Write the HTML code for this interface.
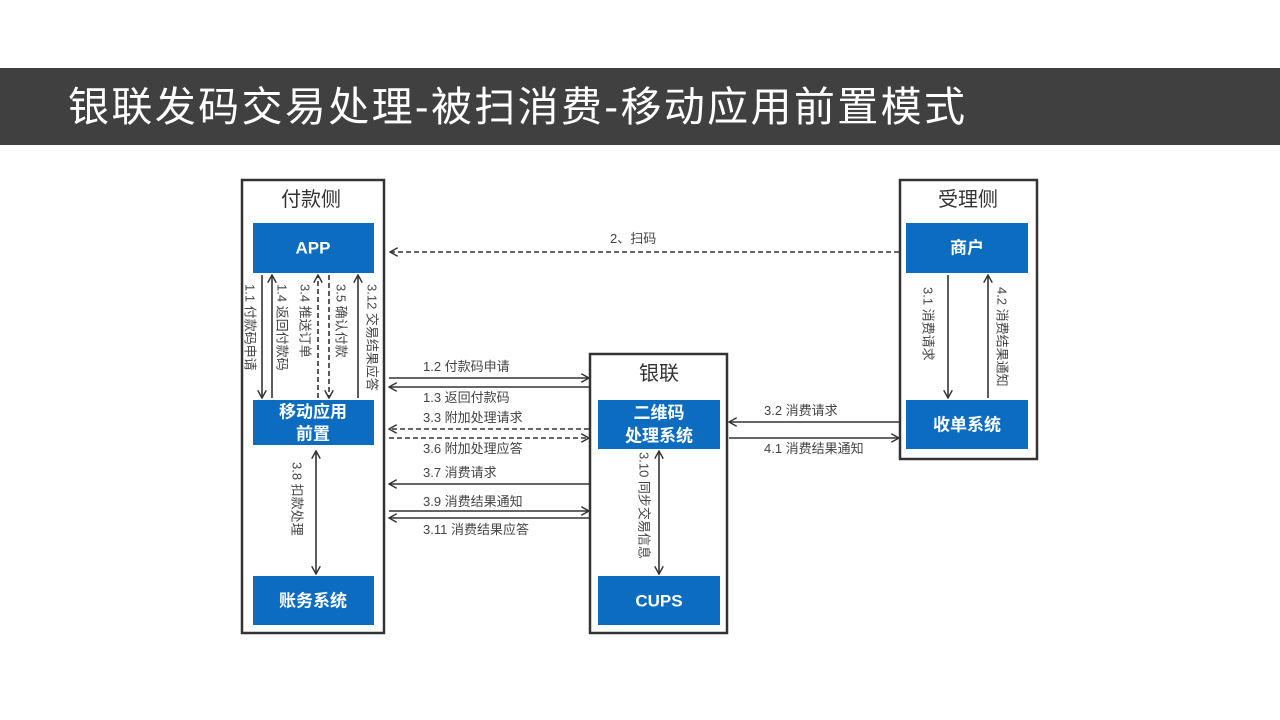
<!DOCTYPE html>
<html><head><meta charset="utf-8"><style>
html,body{margin:0;padding:0;width:1280px;height:720px;background:#fff;overflow:hidden}
svg{display:block}
text{font-family:"Liberation Sans","Noto Sans CJK SC",sans-serif}
.lb{font-size:13px;fill:#444}
.bx{fill:#0b6cc0}
.bt{font-size:17px;font-weight:bold;fill:#fff;text-anchor:middle;dominant-baseline:central}
.ct{fill:none;stroke:#333;stroke-width:2.5}
.ln{stroke:#333;stroke-width:1.6;fill:none}
.ds{stroke:#333;stroke-width:1.6;fill:none;stroke-dasharray:5,3}
.vt{font-size:13px;fill:#444;dominant-baseline:central}
</style></head><body>
<svg width="1280" height="720" xmlns="http://www.w3.org/2000/svg">
<defs>
<marker id="a" viewBox="0 0 10 10" refX="9" refY="5" markerWidth="9" markerHeight="9" orient="auto-start-reverse" markerUnits="userSpaceOnUse"><path d="M0,0 L9,5 L0,10" fill="none" stroke="#333" stroke-width="1.6"/></marker>
</defs>
<rect x="0" y="68" width="1280" height="77" fill="#404040"/>
<text x="68" y="121" font-size="41" fill="#fff" textLength="897" lengthAdjust="spacing">银联发码交易处理-被扫消费-移动应用前置模式</text>

<rect class="ct" x="242" y="180" width="142" height="453"/>
<rect class="ct" x="590" y="354" width="137" height="279"/>
<rect class="ct" x="900" y="180" width="137" height="279"/>
<text x="311" y="206" font-size="20" fill="#333" text-anchor="middle">付款侧</text>
<text x="659" y="380" font-size="20" fill="#333" text-anchor="middle">银联</text>
<text x="968" y="206" font-size="20" fill="#333" text-anchor="middle">受理侧</text>

<rect class="bx" x="253" y="223" width="121" height="50"/><text class="bt" x="313" y="248">APP</text>
<rect class="bx" x="253" y="400" width="121" height="45"/><text class="bt" x="313" y="412">移动应用</text><text class="bt" x="313" y="434">前置</text>
<rect class="bx" x="253" y="576" width="121" height="49"/><text class="bt" x="313" y="601">账务系统</text>
<rect class="bx" x="598" y="400" width="122" height="49"/><text class="bt" x="659" y="413">二维码</text><text class="bt" x="659" y="436">处理系统</text>
<rect class="bx" x="598" y="576" width="122" height="49"/><text class="bt" x="659" y="601">CUPS</text>
<rect class="bx" x="906" y="223" width="122" height="50"/><text class="bt" x="967" y="248">商户</text>
<rect class="bx" x="906" y="400" width="122" height="49"/><text class="bt" x="967" y="425">收单系统</text>

<line class="ds" x1="899" y1="252" x2="390" y2="252" marker-end="url(#a)"/>
<text class="lb" x="610" y="243">2、扫码</text>

<line class="ln" x1="262" y1="275" x2="262" y2="398" marker-end="url(#a)"/>
<line class="ln" x1="272" y1="398" x2="272" y2="275" marker-end="url(#a)"/>
<line class="ds" x1="318" y1="398" x2="318" y2="275" marker-end="url(#a)"/>
<line class="ds" x1="329" y1="275" x2="329" y2="398" marker-end="url(#a)"/>
<line class="ln" x1="358" y1="398" x2="358" y2="275" marker-end="url(#a)"/>
<text class="vt" transform="translate(250,284) rotate(90)">1.1 付款码申请</text>
<text class="vt" transform="translate(282,284) rotate(90)">1.4 返回付款码</text>
<text class="vt" transform="translate(305,284) rotate(90)">3.4 推送订单</text>
<text class="vt" transform="translate(341,284) rotate(90)">3.5 确认付款</text>
<text class="vt" transform="translate(372,284) rotate(90)">3.12 交易结果应答</text>

<line class="ln" x1="316" y1="451" x2="316" y2="574" marker-start="url(#a)" marker-end="url(#a)"/>
<text class="vt" transform="translate(297,462) rotate(90)">3.8 扣款处理</text>

<line class="ln" x1="659" y1="451" x2="659" y2="574" marker-start="url(#a)" marker-end="url(#a)"/>
<text class="vt" transform="translate(644,452) rotate(90)">3.10 同步交易信息</text>

<line class="ln" x1="389" y1="378" x2="589" y2="378" marker-end="url(#a)"/>
<text class="lb" x="423" y="371">1.2 付款码申请</text>
<line class="ln" x1="589" y1="387" x2="389" y2="387" marker-end="url(#a)"/>
<text class="lb" x="423" y="402">1.3 返回付款码</text>
<line class="ds" x1="589" y1="429" x2="389" y2="429" marker-end="url(#a)"/>
<text class="lb" x="423" y="422">3.3 附加处理请求</text>
<line class="ds" x1="389" y1="438" x2="589" y2="438" marker-end="url(#a)"/>
<text class="lb" x="423" y="453">3.6 附加处理应答</text>
<line class="ln" x1="589" y1="484" x2="389" y2="484" marker-end="url(#a)"/>
<text class="lb" x="423" y="477">3.7 消费请求</text>
<line class="ln" x1="389" y1="511" x2="589" y2="511" marker-end="url(#a)"/>
<text class="lb" x="423" y="506">3.9 消费结果通知</text>
<line class="ln" x1="589" y1="518" x2="389" y2="518" marker-end="url(#a)"/>
<text class="lb" x="423" y="534">3.11 消费结果应答</text>

<line class="ln" x1="899" y1="422" x2="729" y2="422" marker-end="url(#a)"/>
<text class="lb" x="764" y="415">3.2 消费请求</text>
<line class="ln" x1="729" y1="438" x2="899" y2="438" marker-end="url(#a)"/>
<text class="lb" x="764" y="453">4.1 消费结果通知</text>
<line class="ln" x1="948" y1="275" x2="948" y2="398" marker-end="url(#a)"/>
<line class="ln" x1="988" y1="398" x2="988" y2="275" marker-end="url(#a)"/>
<text class="vt" transform="translate(928,287) rotate(90)">3.1 消费请求</text>
<text class="vt" transform="translate(1002,287) rotate(90)">4.2 消费结果通知</text>
</svg>
</body></html>
